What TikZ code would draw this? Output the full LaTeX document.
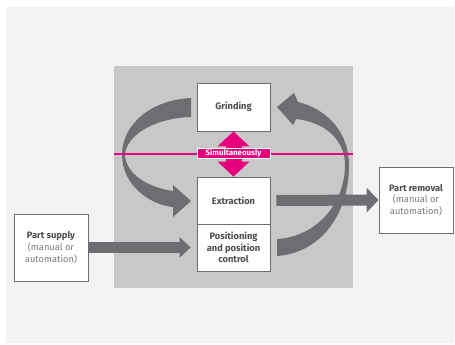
\documentclass[tikz,border=0pt]{standalone}
\usepackage{fontspec}
\setmainfont{Fira Sans}
\usetikzlibrary{arrows.meta}
\definecolor{bgc}{HTML}{F3F3F3}
\definecolor{panel}{HTML}{C8C8C9}
\definecolor{arrowc}{HTML}{6D6E71}
\definecolor{pinkc}{HTML}{E6007E}
\definecolor{txt}{HTML}{4D4D4F}
\definecolor{txtl}{HTML}{7A7A7C}
\definecolor{edgec}{HTML}{6D6E71}
\begin{document}
\begin{tikzpicture}[x=1pt,y=-1pt,
  box/.style={draw=edgec, line width=0.8pt, fill=white, inner sep=0pt, align=center,
    text=txt, font=\fontsize{9.3}{11.8}\selectfont},
  flowarrow/.style={draw=arrowc, line width=11pt, -{Triangle[length=11pt,width=20pt]}},
  outarrow/.style={draw=arrowc, line width=11pt, -{Triangle[length=12pt,width=24pt]}},
  curvearrow/.style={fill=arrowc},
  simarrow/.style={draw=pinkc, line width=16pt,
    {Triangle[length=15pt,width=31pt]}-{Triangle[length=15pt,width=31pt]}},
  simlabel/.style={fill=pinkc, draw=white, line width=0.6pt, text=white, inner sep=0pt,
    minimum width=73pt, minimum height=9.5pt, font=\fontsize{7.9}{8}\selectfont\bfseries}
]
\useasboundingbox (0,0) rectangle (455,345);
\fill[white] (0,0) rectangle (455,345);
\fill[bgc] (6,7) rectangle (454,343);
\fill[panel] (114,66) rectangle (353,288);

% curved arrows
\fill[curvearrow] (191,98) .. controls (150,100) and (122,125) .. (122,155)
  .. controls (122,185) and (150,205) .. (173,207) -- (173,217) -- (191,201) -- (173,185)
  -- (173,191) .. controls (150,188) and (126,175) .. (125,155)
  .. controls (126,135) and (155,118) .. (191,117) -- cycle;
\fill[curvearrow] (277,256) .. controls (320,253) and (349,215) .. (349,165)
  .. controls (349,135) and (330,110) .. (298,102) -- (294,93) -- (277,107) -- (293,125)
  -- (296,119) .. controls (325,122) and (345,140) .. (345,165)
  .. controls (345,205) and (315,237) .. (277,239) -- cycle;

% pink line
\coordinate (lineL) at (114,154);
\coordinate (lineR) at (353,154);
\draw[pinkc, line width=1.2pt] (lineL) -- (lineR);

% boxes
\node[box, minimum width=73pt, minimum height=48pt] (grinding) at (233.5,107) {\bfseries Grinding};
\node[box, minimum width=73pt, minimum height=47pt] (extraction) at (233.5,200.5) {\bfseries Extraction};
\node[box, minimum width=73pt, minimum height=47pt] (positioning) at (233.5,247.5) {\bfseries Positioning\\\bfseries and position\\\bfseries control};
\node[box, minimum width=74pt, minimum height=67pt] (supply) at (51,247.5) {\textbf{Part supply}\\\textcolor{txtl}{(manual or}\\\textcolor{txtl}{automation)}};
\node[box, minimum width=74pt, minimum height=66pt] (removal) at (416,200) {\textbf{Part removal}\\\textcolor{txtl}{(manual or}\\\textcolor{txtl}{automation)}};

% straight arrows
\draw[flowarrow] (supply.east) -- ([xshift=-6pt]positioning.west);
\draw[outarrow] ([xshift=6pt]extraction.east) -- (removal.west);

% simultaneous arrow
\draw[simarrow] (grinding.south) -- (extraction.north);
\node[simlabel] (sim) at (233.5,153.5) {Simultaneously};
\end{tikzpicture}
\end{document}
